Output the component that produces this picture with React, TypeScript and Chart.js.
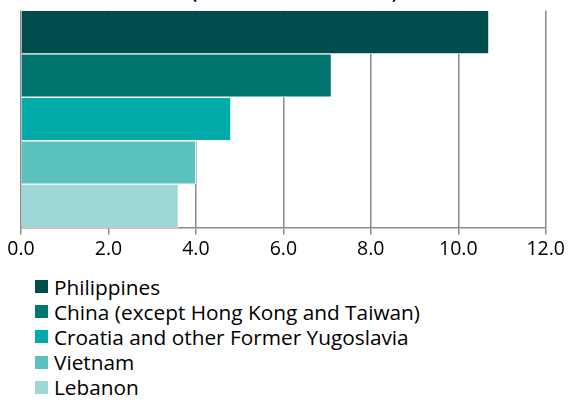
import React, { useEffect, useRef } from "react";
import { Chart, registerables } from "chart.js";

Chart.register(...registerables);

const titleText = "(thousands of residents)";
const countries = [
  "Philippines",
  "China (except Hong Kong and Taiwan)",
  "Croatia and other Former Yugoslavia",
  "Vietnam",
  "Lebanon",
];
const values = [10.7, 7.1, 4.8, 4.0, 3.6];
const colors = ["#014d4e", "#00766f", "#00aba9", "#5bc2be", "#9dd8d7"];
const xTicks = [0, 2, 4, 6, 8, 10, 12];

const FONT = "'Open Sans', sans-serif";

export default function App() {
  const ref = useRef<HTMLCanvasElement | null>(null);
  useEffect(() => {
    if (!ref.current) return;
    const chart = new Chart(ref.current, {
      type: "bar",
      data: {
        labels: [""],
        datasets: countries.map((c, i) => ({
          label: c,
          data: [values[i]],
          backgroundColor: colors[i],
          borderColor: "#ffffff",
          borderWidth: 1,
          categoryPercentage: 1,
          barPercentage: 1,
        })),
      },
      options: {
        indexAxis: "y",
        animation: false,
        responsive: false,
        maintainAspectRatio: false,
        layout: { padding: { left: 21, right: 0, top: 0, bottom: 0 } },
        plugins: {
          legend: { display: false },
          tooltip: { enabled: false },
          title: {
            display: true,
            text: titleText,
            color: "#000",
            font: { family: FONT, size: 17 },
            padding: { top: 0, bottom: 6 },
          },
        },
        scales: {
          x: {
            min: xTicks[0],
            max: xTicks[xTicks.length - 1],
            afterBuildTicks: (axis: any) => {
              axis.ticks = xTicks.map((v) => ({ value: v }));
            },
            ticks: {
              color: "#000",
              font: { family: FONT, size: 19.5 },
              padding: 3,
              callback: (v: any) => Number(v).toFixed(1),
            },
            grid: {
              color: "#8a8a8a",
              lineWidth: 1.5,
              tickLength: 7,
              drawOnChartArea: true,
            },
            border: { display: true, color: "#8a8a8a", width: 1.5 },
          },
          y: {
            display: false,
          },
        },
      },
    });
    return () => chart.destroy();
  }, []);

  return (
    <div style={{ position: "absolute", left: 0, top: 0, width: 568, height: 401, overflow: "hidden" }}>
      <div style={{ position: "absolute", left: 0, top: -16, width: 568, height: 280 }}>
        <canvas ref={ref} width={568} height={280} style={{ width: 568, height: 280, display: "block" }} />
      </div>
      <div style={{ position: "absolute", left: 35, top: 274, fontFamily: FONT, fontSize: 20.8, color: "#000" }}>
        {countries.map((c, i) => (
          <div key={c} style={{ display: "flex", alignItems: "center", height: 25.2, whiteSpace: "nowrap" }}>
            <span style={{ display: "inline-block", width: 13, height: 13, background: colors[i], marginRight: 6, flex: "none" }} />
            <span>{c}</span>
          </div>
        ))}
      </div>
    </div>
  );
}
